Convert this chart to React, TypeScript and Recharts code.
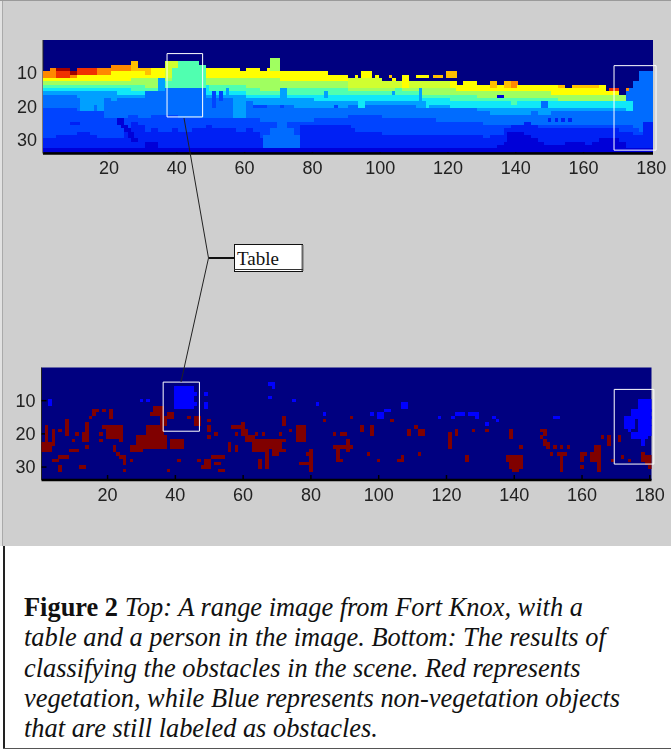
import { ScatterChart, Scatter, XAxis, YAxis, ReferenceArea } from 'recharts'

const colTicks = [20, 40, 60, 80, 100, 120, 140, 160, 180]
const rowTicks = [10, 20, 30]

// colormap of the range image, index = level
const levelColors = [
  '#000080', '#0000D8', '#0020F4', '#0044FF', '#006CFF', '#00A0FF', '#10E8F8', '#50FFB0',
  '#A0FF60', '#D0FF30', '#FFFF00', '#FFC000', '#FF8800', '#F03000', '#A00000',
]

// range image bands, one value per 2 columns: first row of each band
const skyEnd = [
  10, 9, 9, 9, 10, 9, 9, 9, 9, 9, 8, 8, 8, 7, 9, 9, 9, 9, 7, 7, 7, 7, 7, 8, 9, 9, 9, 9, 9, 10,
  9, 9, 10, 9, 10, 10, 10, 10, 10, 10, 10, 10, 11, 11, 11, 12, 12, 12, 12, 12, 13, 13, 13, 11, 13, 13, 13, 13, 13, 13,
  13, 14, 13, 13, 14, 14, 13, 14, 13, 13, 14, 14, 14, 14, 14, 14, 14, 15, 14, 14, 14, 14, 14, 16, 16, 17, 15, 13, 10, 10,
]
const warmTop = [
  12, 12, 13, 13, 12, 13, 13, 13, 12, 12, 12, 12, 12, 11, 11, 11, 10, 10, 9, 9, 7, 7, 7, 7, 10, 10, 10, 10, 10, 10,
  10, 10, 10, 10, 10, 10, 10, 10, 10, 10, 10, 10, 10, 10, 10, 9, 9, 9, 9, 9, 9, 9, 9, 10, 9, 9, 9, 9, 9, 9,
  10, 10, 10, 10, 10, 10, 11, 10, 11, 12, 10, 10, 10, 10, 10, 10, 11, 10, 11, 11, 11, 11, 10, 10, 10, 10, 4, 4, 4, 4,
]
const yellowStart = [
  12, 12, 12, 12, 12, 11, 11, 11, 11, 11, 10, 10, 10, 10, 10, 11, 11, 11, 99, 99, 99, 99, 99, 99, 0, 0, 0, 0, 0, 0,
  0, 0, 0, 0, 0, 0, 0, 0, 0, 0, 0, 0, 0, 0, 0, 99, 99, 99, 99, 99, 99, 99, 99, 99, 99, 99, 99, 99, 99, 99,
  15, 15, 15, 15, 15, 15, 15, 15, 15, 15, 0, 0, 0, 0, 0, 15, 15, 15, 15, 15, 15, 15, 15, 15, 15, 0, 99, 99, 99, 99,
]
const greenStart = [
  13, 13, 13, 13, 13, 13, 13, 13, 13, 13, 13, 13, 13, 12, 12, 12, 12, 12, 12, 12, 12, 12, 12, 12, 12, 12, 12, 12, 12, 12,
  12, 12, 12, 12, 12, 13, 13, 13, 13, 13, 13, 13, 13, 13, 13, 15, 15, 15, 15, 15, 15, 15, 15, 15, 15, 15, 15, 15, 15, 15,
  15, 16, 16, 16, 16, 16, 16, 16, 16, 16, 16, 16, 16, 16, 16, 17, 17, 17, 17, 17, 17, 17, 17, 17, 17, 17, 15, 13, 10, 10,
]
const tealStart = [
  14, 14, 14, 14, 14, 14, 14, 14, 14, 14, 14, 14, 14, 14, 14, 15, 15, 14, 13, 9, 7, 7, 7, 7, 14, 14, 14, 14, 14, 14,
  15, 15, 16, 16, 16, 16, 15, 15, 15, 15, 15, 15, 15, 15, 15, 16, 16, 16, 16, 16, 16, 16, 15, 16, 16, 16, 17, 17, 17, 17,
  17, 17, 17, 17, 18, 18, 18, 18, 18, 18, 18, 18, 18, 18, 18, 18, 19, 19, 19, 19, 19, 19, 19, 19, 19, 19, 15, 13, 10, 10,
]
const cyanStart = [
  15, 15, 15, 15, 15, 15, 15, 15, 15, 15, 15, 15, 15, 16, 16, 16, 16, 15, 15, 15, 15, 15, 15, 15, 16, 16, 16, 16, 16, 16,
  17, 17, 17, 17, 17, 17, 17, 17, 17, 17, 17, 17, 17, 17, 17, 17, 17, 17, 17, 17, 17, 17, 17, 17, 17, 17, 18, 18, 18, 18,
  19, 19, 19, 19, 19, 19, 19, 19, 19, 20, 19, 19, 19, 19, 19, 19, 19, 19, 19, 19, 19, 19, 19, 19, 19, 19, 15, 13, 10, 10,
]
const blueSkyStart = [
  16, 16, 16, 16, 16, 16, 16, 16, 16, 16, 16, 17, 17, 17, 17, 17, 17, 15, 15, 15, 15, 15, 15, 15, 17, 17, 17, 17, 17, 17,
  18, 18, 18, 18, 18, 18, 18, 18, 18, 18, 19, 19, 19, 19, 19, 19, 19, 19, 19, 19, 19, 19, 19, 19, 19, 19, 19, 20, 20, 20,
  21, 21, 21, 21, 21, 21, 21, 21, 21, 21, 21, 21, 21, 21, 21, 21, 21, 21, 21, 21, 21, 21, 21, 21, 21, 21, 15, 13, 10, 10,
]
const midStart = [
  17, 17, 17, 17, 17, 18, 18, 20, 22, 18, 19, 18, 18, 18, 18, 18, 18, 17, 15, 15, 15, 15, 15, 15, 18, 18, 18, 18, 19, 19,
  19, 20, 20, 20, 20, 20, 20, 21, 21, 21, 21, 21, 21, 21, 21, 20, 20, 20, 20, 20, 20, 20, 20, 20, 20, 21, 21, 21, 21, 21,
  21, 21, 21, 21, 22, 22, 23, 23, 23, 23, 23, 23, 22, 23, 23, 22, 22, 22, 22, 22, 22, 22, 22, 22, 22, 22, 15, 13, 10, 10,
]
const blueStart = [
  21, 21, 21, 21, 21, 22, 22, 22, 22, 22, 22, 23, 23, 23, 24, 24, 23, 22, 23, 23, 24, 24, 24, 24, 24, 24, 24, 24, 24, 24,
  24, 24, 25, 25, 25, 25, 25, 25, 25, 25, 24, 24, 24, 24, 24, 23, 23, 23, 23, 23, 24, 24, 24, 24, 24, 24, 24, 24, 25, 25,
  25, 25, 25, 25, 25, 26, 26, 26, 26, 26, 26, 26, 26, 26, 26, 26, 26, 26, 26, 26, 26, 26, 26, 26, 26, 26, 26, 27, 28, 28,
]
const deepStart = [
  30, 30, 29, 29, 29, 28, 28, 29, 30, 30, 30, 30, 27, 25, 26, 28, 27, 28, 28, 27, 28, 28, 27, 27, 26, 29, 29, 29, 28, 28,
  27, 28, 30, 30, 32, 32, 32, 30, 28, 27, 26, 26, 26, 26, 26, 27, 28, 28, 28, 28, 29, 29, 29, 29, 29, 29, 29, 29, 29, 29,
  29, 29, 29, 29, 29, 30, 29, 29, 27, 26, 26, 25, 26, 27, 27, 27, 27, 27, 27, 27, 27, 27, 27, 27, 27, 28, 28, 29, 29, 30,
]
const darkStart = [
  33, 33, 33, 33, 33, 33, 33, 33, 33, 33, 33, 33, 33, 33, 33, 31, 31, 33, 33, 33, 33, 33, 33, 33, 33, 33, 33, 33, 33, 33,
  33, 33, 33, 33, 33, 33, 33, 33, 33, 33, 31, 31, 31, 31, 31, 33, 33, 33, 33, 33, 33, 33, 33, 33, 33, 33, 33, 33, 33, 33,
  33, 33, 33, 33, 33, 33, 33, 32, 31, 30, 30, 29, 30, 31, 32, 32, 32, 31, 31, 31, 32, 31, 30, 30, 30, 31, 33, 33, 33, 33,
]

// single features on top of the bands: col from, col to, row from, row to, level
const rangeDetails = [
  [12, 13, 17, 21, 5], [14, 15, 17, 21, 5], [19, 25, 19, 23, 4], [31, 37, 16, 22, 4], [57, 60, 19, 23, 5],
  [71, 72, 15, 17, 5], [70, 72, 25, 26, 4], [68, 74, 27, 28, 4], [66, 76, 29, 32, 4], [49, 57, 27, 32, 2],
  [77, 91, 26, 32, 2], [138, 142, 28, 32, 1], [178, 180, 25, 32, 2],
  [23, 24, 24, 25, 1], [24, 25, 26, 26, 1], [25, 26, 27, 27, 1], [26, 27, 28, 29, 1], [27, 28, 30, 30, 1],
  [9, 11, 25, 25, 2], [12, 13, 30, 30, 2], [51, 51, 16, 20, 3], [53, 53, 16, 18, 3], [63, 66, 20, 20, 3],
  [71, 71, 20, 20, 3], [60, 60, 24, 25, 3], [94, 95, 19, 20, 6], [104, 104, 16, 16, 5], [112, 112, 15, 18, 5],
  [114, 114, 18, 20, 6], [49, 49, 14, 16, 6], [55, 55, 15, 17, 5], [75, 78, 18, 19, 5], [84, 84, 16, 17, 5],
  [87, 87, 20, 20, 3], [35, 36, 12, 14, 5],
  [68, 70, 6, 9, 8], [93, 93, 11, 11, 10], [95, 97, 10, 11, 10], [99, 99, 11, 11, 10], [103, 103, 11, 11, 11],
  [104, 104, 12, 12, 10], [111, 114, 11, 11, 10], [116, 118, 11, 11, 11], [120, 122, 10, 11, 11], [168, 170, 15, 15, 13],
  [173, 173, 15, 15, 12], [173, 174, 19, 21, 6], [135, 136, 17, 17, 1], [148, 149, 19, 20, 4], [150, 150, 24, 24, 2],
  [152, 152, 24, 24, 2], [154, 154, 24, 24, 2], [156, 156, 24, 24, 2], [5, 8, 9, 9, 14], [9, 10, 10, 10, 14],
]

// classified cells: col from, col to, row from, row to
const vegetationSpans = [
  [2, 2, 18, 22], [4, 4, 19, 23], [1, 3, 23, 25], [6, 6, 19, 19], [8, 8, 16, 20], [10, 10, 22, 22], [11, 11, 20, 20],
  [13, 14, 20, 22], [14, 14, 17, 19], [14, 14, 24, 24], [9, 11, 25, 25], [6, 8, 27, 27], [4, 5, 28, 28], [6, 6, 30, 31],
  [12, 13, 30, 30], [15, 15, 15, 15], [16, 17, 13, 13], [16, 16, 14, 14], [19, 19, 13, 13], [21, 21, 13, 15], [18, 18, 22, 22],
  [18, 18, 20, 20], [19, 22, 18, 18], [20, 22, 19, 21], [23, 23, 18, 21], [24, 24, 18, 22], [22, 22, 24, 25], [23, 23, 26, 26],
  [24, 25, 27, 27], [25, 25, 28, 28], [25, 25, 29, 29], [25, 25, 31, 31], [27, 27, 28, 28], [32, 36, 18, 21], [29, 37, 21, 24],
  [27, 30, 24, 25], [34, 36, 12, 14], [33, 36, 14, 14], [36, 37, 15, 17], [38, 39, 14, 15], [39, 42, 22, 24], [41, 42, 24, 24],
  [38, 38, 31, 31], [41, 41, 28, 28], [44, 44, 15, 15], [46, 47, 15, 17], [50, 50, 16, 16], [50, 50, 18, 19], [52, 52, 20, 20],
  [50, 50, 21, 21], [47, 47, 28, 28], [49, 50, 28, 30], [48, 49, 30, 30], [51, 54, 27, 27], [52, 53, 29, 29], [53, 54, 31, 31],
  [56, 56, 23, 25], [58, 58, 24, 25], [57, 60, 18, 18], [60, 60, 17, 20], [58, 58, 20, 20], [61, 61, 19, 21], [61, 63, 21, 22],
  [64, 64, 20, 20], [66, 66, 20, 20], [64, 72, 22, 22], [63, 71, 23, 24], [63, 66, 25, 25], [67, 67, 25, 30], [65, 65, 28, 30],
  [69, 70, 25, 26], [71, 72, 25, 25], [71, 71, 20, 20], [72, 72, 15, 17], [74, 74, 19, 19], [76, 78, 18, 22], [80, 80, 25, 31],
  [77, 79, 29, 29], [79, 79, 26, 26], [84, 84, 16, 16], [87, 87, 20, 20], [89, 90, 20, 20], [92, 92, 15, 15], [95, 95, 18, 19],
  [98, 98, 18, 20], [87, 90, 24, 24], [88, 88, 25, 28], [88, 89, 28, 28], [91, 91, 22, 25], [92, 92, 24, 24], [97, 97, 26, 26],
  [100, 100, 28, 28], [106, 107, 28, 28], [107, 107, 27, 27], [112, 112, 26, 26], [104, 104, 16, 16], [109, 109, 19, 20],
  [111, 111, 18, 18], [112, 113, 19, 20], [121, 121, 20, 24], [123, 123, 19, 20], [126, 126, 27, 28], [128, 128, 19, 19],
  [132, 132, 19, 19], [139, 139, 19, 21], [142, 142, 24, 24], [138, 142, 27, 27], [138, 140, 28, 28], [141, 142, 28, 30],
  [139, 140, 29, 30], [140, 141, 31, 31], [148, 149, 19, 19], [149, 149, 20, 20], [148, 148, 21, 21], [149, 149, 22, 23],
  [150, 150, 23, 24], [152, 152, 24, 24], [154, 154, 24, 24], [156, 156, 24, 24], [151, 151, 26, 26], [153, 155, 26, 26],
  [154, 154, 27, 31], [160, 161, 26, 26], [160, 160, 27, 28], [160, 160, 30, 30], [163, 165, 26, 28], [164, 165, 24, 25],
  [165, 165, 29, 31], [166, 166, 21, 21], [168, 168, 21, 23], [171, 171, 21, 22], [169, 169, 28, 28], [172, 172, 27, 27],
  [174, 174, 28, 28], [178, 178, 26, 28], [179, 180, 27, 29], [180, 180, 30, 30],
]
const obstacleSpans = [
  [3, 3, 10, 11], [30, 30, 10, 10], [32, 32, 10, 10], [40, 45, 6, 12], [46, 46, 8, 8], [46, 46, 11, 11], [49, 49, 8, 8],
  [49, 49, 11, 12], [68, 69, 5, 5], [69, 69, 6, 6], [68, 68, 9, 9], [75, 75, 10, 10], [82, 82, 11, 11], [84, 84, 14, 14],
  [107, 108, 11, 12], [98, 98, 14, 14], [102, 103, 13, 13], [100, 101, 14, 15], [118, 118, 15, 15], [122, 122, 15, 15],
  [123, 125, 14, 14], [127, 129, 14, 14], [129, 129, 15, 15], [134, 134, 15, 15], [135, 135, 16, 16], [132, 132, 17, 17],
  [152, 153, 15, 15], [177, 180, 10, 13], [175, 180, 13, 15], [173, 175, 15, 18], [177, 180, 15, 19], [174, 174, 18, 19],
  [175, 180, 20, 20], [175, 179, 21, 21], [178, 178, 22, 23],
]

const caption = [
  [['Figure 2 ', true], ['Top: A range image from Fort Knox, with a', false]],
  [['table and a person in the image. Bottom: The results of', false]],
  [['classifying the obstacles in the scene. Red represents', false]],
  [['vegetation, while Blue represents non-vegetation objects', false]],
  [['that are still labeled as obstacles.', false]],
] as [string, boolean][][]

const rangeLevel = (g: number, row: number) => {
  if (row < skyEnd[g]) return 0
  if (row >= darkStart[g]) return 1
  if (row >= deepStart[g]) return 2
  if (row >= blueStart[g]) return 3
  if (row >= midStart[g]) return 4
  if (row >= blueSkyStart[g]) return 5
  if (row >= cyanStart[g]) return 6
  if (row >= tealStart[g]) return 7
  if (row >= greenStart[g]) return 8
  return row >= yellowStart[g] ? 10 : warmTop[g]
}

const buildRangeCells = () => {
  const grid = new Map<string, number>()
  skyEnd.forEach((_, g) => {
    for (let row = 1; row <= 33; row++) {
      grid.set(`${2 * g + 1}:${row}`, rangeLevel(g, row))
      grid.set(`${2 * g + 2}:${row}`, rangeLevel(g, row))
    }
  })
  rangeDetails.forEach(([c1, c2, r1, r2, level]) => {
    for (let c = c1; c <= c2; c++) for (let r = r1; r <= r2; r++) grid.set(`${c}:${r}`, level)
  })
  return [...grid.entries()]
    .filter(([, level]) => level > 0)
    .map(([key, level]) => {
      const [col, row] = key.split(':').map(Number)
      return { col, row, color: levelColors[level] }
    })
}

const spanCells = (spans: number[][], color: string) =>
  spans.flatMap(([c1, c2, r1, r2]) => {
    const cells = []
    for (let col = c1; col <= c2; col++) for (let row = r1; row <= r2; row++) cells.push({ col, row, color })
    return cells
  })

const rangeCells = buildRangeCells()
const classCells = [...spanCells(vegetationSpans, '#800000'), ...spanCells(obstacleSpans, '#0000FF')]

interface PanelProps {
  left: number
  plotTop: number
  plotWidth: number
  plotHeight: number
  rowDomain: [number, number]
  cells: { col: number; row: number; color: string }[]
  boxes: number[][]
}

function Panel({ left, plotTop, plotWidth, plotHeight, rowDomain, cells, boxes }: PanelProps) {
  const cellW = plotWidth / 180 + 0.2
  const cellH = plotHeight / (rowDomain[1] - rowDomain[0]) + 0.2
  const tickStyle = { fill: '#222', fontSize: 18, fontFamily: '"Liberation Sans", sans-serif' }
  const tickLine = { stroke: '#000', strokeWidth: 1.5 }
  const chartHeight = plotTop + plotHeight + 40
  const right = 671 - left - plotWidth

  return (
    <div style={{ position: 'absolute', left: 0, top: 0, filter: 'blur(0.45px)' }}>
      <ScatterChart width={671} height={chartHeight} margin={{ top: plotTop, left: 0, right, bottom: 0 }}>
        <XAxis
          type="number"
          dataKey="col"
          domain={[0.5, 180.5]}
          ticks={colTicks}
          height={40}
          axisLine={{ stroke: '#000', strokeWidth: 2.5 }}
          tickLine={tickLine}
          tickSize={-5}
          tickMargin={13}
          tick={tickStyle}
          allowDataOverflow
        />
        <YAxis
          type="number"
          dataKey="row"
          reversed
          domain={rowDomain}
          ticks={rowTicks}
          width={left}
          stroke="#222"
          tickLine={tickLine}
          tickSize={-5}
          tickMargin={11}
          tick={tickStyle}
          allowDataOverflow
        />
        <XAxis
          xAxisId="top"
          orientation="top"
          type="number"
          domain={[0.5, 180.5]}
          ticks={colTicks}
          height={0}
          stroke="#222"
          tickLine={tickLine}
          tickSize={-5}
          tick={() => <g />}
        />
        <YAxis
          yAxisId="right"
          orientation="right"
          type="number"
          reversed
          domain={rowDomain}
          ticks={rowTicks}
          width={0}
          stroke="#222"
          tickLine={tickLine}
          tickSize={-5}
          tick={() => <g />}
        />
        <ReferenceArea x1={0.5} x2={180.5} y1={rowDomain[0]} y2={rowDomain[1]} fill="#000080" fillOpacity={1} stroke="none" />
        <Scatter
          data={cells}
          isAnimationActive={false}
          shape={(props: any) => (
            <rect
              x={props.cx - cellW / 2}
              y={props.cy - cellH / 2}
              width={cellW}
              height={cellH}
              fill={props.payload.color}
              shapeRendering="crispEdges"
            />
          )}
        />
      </ScatterChart>

      {/* white selection boxes have to sit above the cells, so a second transparent chart with the same scales */}
      <div style={{ position: 'absolute', left: 0, top: 0 }}>
        <ScatterChart width={671} height={chartHeight} margin={{ top: plotTop, left, right, bottom: 40 }}>
          <XAxis type="number" dataKey="col" domain={[0.5, 180.5]} hide allowDataOverflow />
          <YAxis type="number" dataKey="row" reversed domain={rowDomain} hide allowDataOverflow />
          <Scatter data={cells.slice(0, 1)} isAnimationActive={false} shape={() => <g />} />
          {boxes.map(([x1, x2, y1, y2]) => (
            <ReferenceArea
              key={x1}
              x1={x1}
              x2={x2}
              y1={y1}
              y2={y2}
              fill="none"
              stroke="#FFFFFF"
              strokeWidth={1}
              ifOverflow="visible"
            />
          ))}
        </ScatterChart>
      </div>
    </div>
  )
}

export default function App() {
  return (
    <div style={{ position: 'absolute', left: 0, top: 0, width: 671, height: 750, background: '#fff', overflow: 'hidden' }}>
      <div style={{ position: 'absolute', left: 0, top: 0, width: 671, height: 546, background: '#CFCFCF' }} />
      <div style={{ position: 'absolute', left: 0, top: 0, width: 2, height: 546, background: '#E2E2E2' }} />
      <div style={{ position: 'absolute', left: 2, top: 0, width: 1, height: 546, background: '#AAAAAA' }} />
      <div style={{ position: 'absolute', left: 0, top: 0, width: 671, height: 1, background: '#9A9A9A' }} />
      <div style={{ position: 'absolute', left: 3, top: 546, width: 2, height: 202, background: '#222' }} />
      <div style={{ position: 'absolute', left: 3, top: 748, width: 668, height: 1, background: '#555' }} />

      <Panel
        left={43}
        plotTop={40}
        plotWidth={610}
        plotHeight={113.5}
        rowDomain={[0.15, 34]}
        cells={rangeCells}
        boxes={[[37.1, 47.6, 4.2, 23.1], [169, 181.4, 7.8, 33]]}
      />
      <Panel
        left={41.5}
        plotTop={367.5}
        plotWidth={610}
        plotHeight={112.5}
        rowDomain={[0, 33.9]}
        cells={classCells}
        boxes={[[36.4, 47.1, 4.4, 19.2], [169.5, 181.2, 6.6, 29.1]]}
      />

      <svg width={671} height={750} style={{ position: 'absolute', left: 0, top: 0 }}>
        <polyline points="184,118 208.5,258 181,382" fill="none" stroke="#222" strokeWidth={1} />
        <line x1={209} x2={234} y1={258} y2={258} stroke="#111" strokeWidth={2} />
        <rect x={234.5} y={244.5} width={68} height={27} fill="#fff" stroke="#111" strokeWidth={1} />
        <line x1={302.5} x2={302.5} y1={245} y2={271} stroke="#666" strokeWidth={2} />
        <line x1={234} x2={303} y1={269.5} y2={269.5} stroke="#333" strokeWidth={1} />
        <text x={237} y={265} fontFamily="Liberation Serif" fontSize={19} fill="#111">
          Table
        </text>
        {caption.map((parts, i) => (
          <text key={i} x={24} y={616 + i * 30.3} fontFamily="Liberation Serif" fontSize={26.4} fill="#111">
            {parts.map(([str, bold]) => (
              <tspan key={str} fontWeight={bold ? 'bold' : 'normal'} fontStyle={bold ? 'normal' : 'italic'}>
                {str}
              </tspan>
            ))}
          </text>
        ))}
      </svg>
    </div>
  )
}
